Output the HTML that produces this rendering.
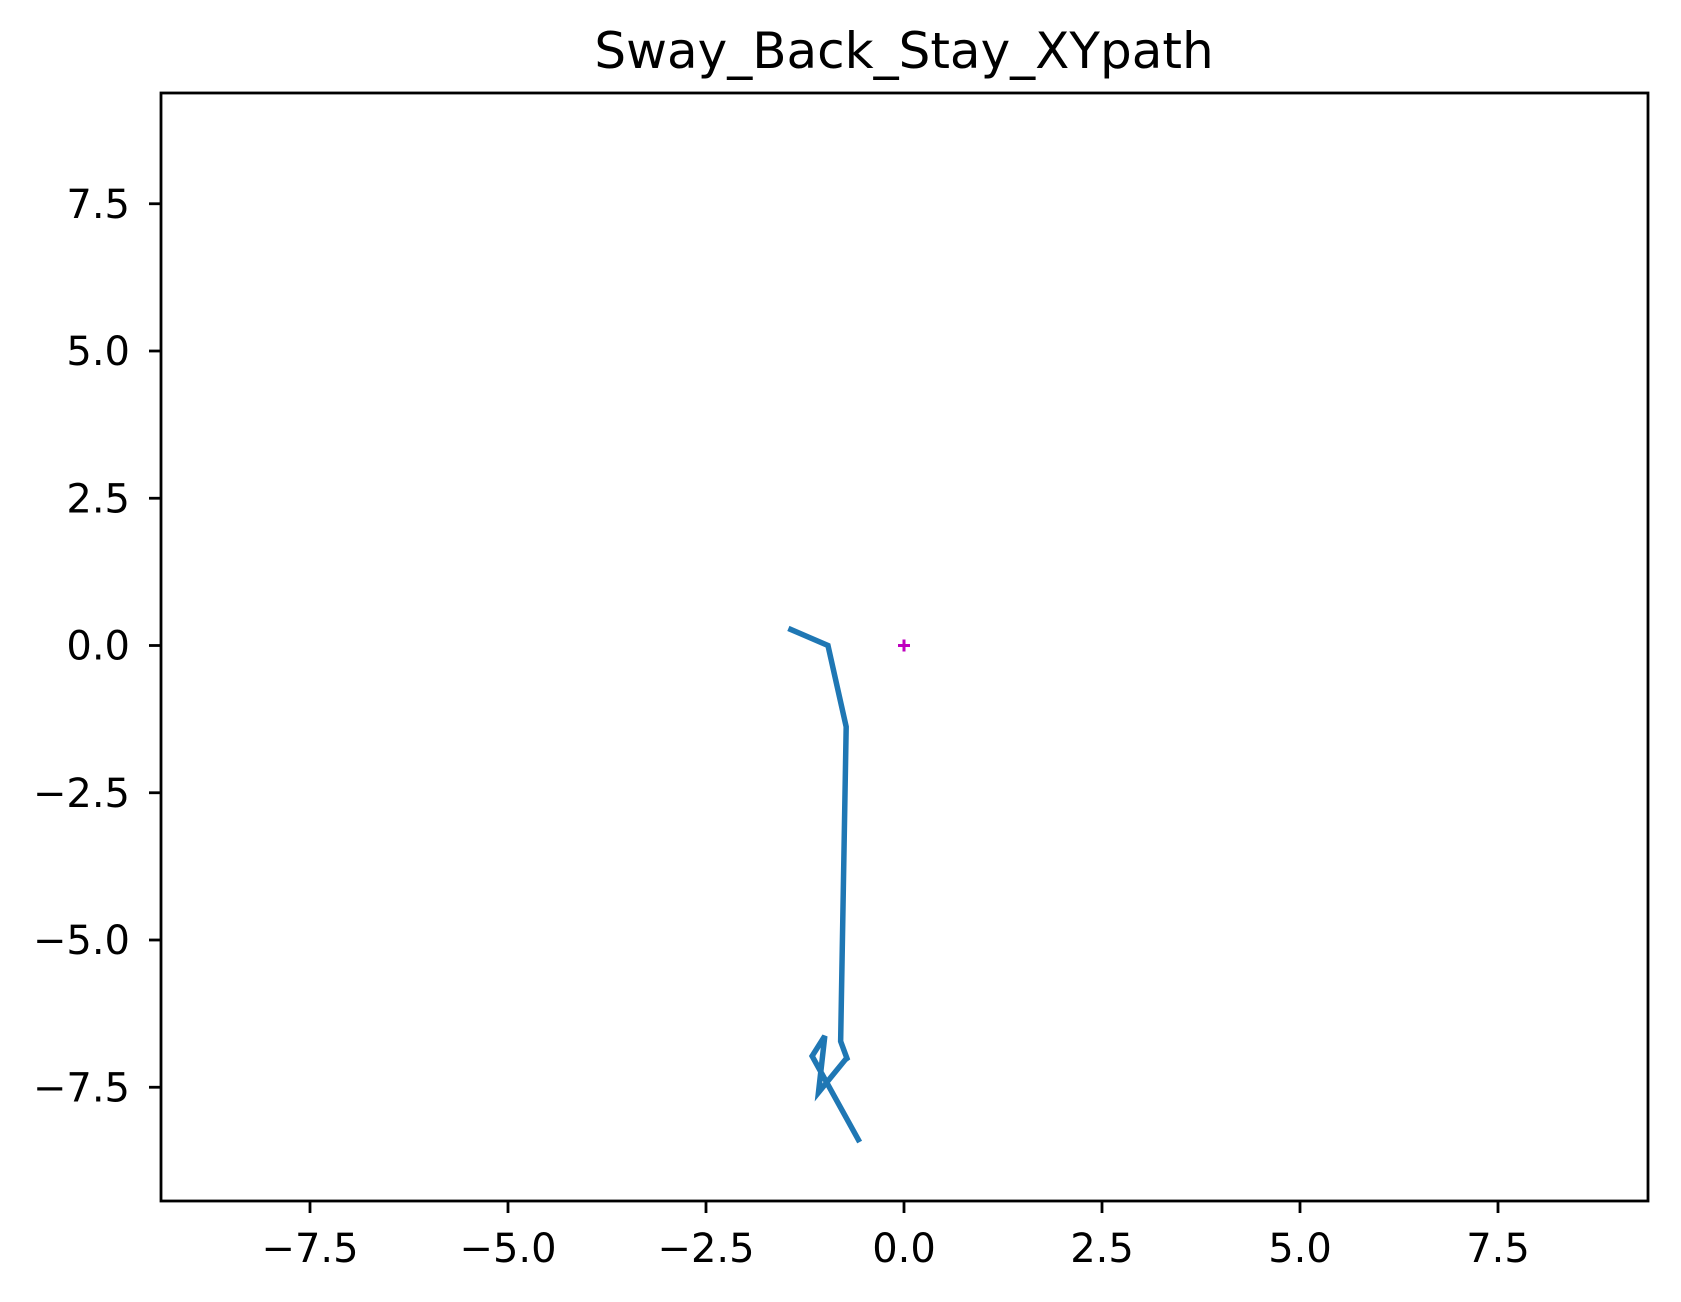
<!DOCTYPE html>
<html><head><meta charset="utf-8"><style>
html,body{margin:0;padding:0;background:#fff;}
svg{display:block;font-family:"DejaVu Sans","Liberation Sans",sans-serif;}
</style></head><body>
<svg id="chart" width="1681" height="1302" viewBox="0 0 1681 1302">
<text x="904" y="68" text-anchor="middle" font-size="50">Sway_Back_Stay_XYpath</text>
<g id="ticks"></g>
<g id="plot"></g>
<rect x="161" y="93" width="1487" height="1108" fill="none" stroke="#000" stroke-width="2.8"/>
</svg>
<script>
const xTicks=[-7.5,-5.0,-2.5,0.0,2.5,5.0,7.5];
const yTicks=[-7.5,-5.0,-2.5,0.0,2.5,5.0,7.5];
const pathX=[-1.46,-0.96,-0.73,-0.80,-0.72,-0.74,-1.08,-1.00,-1.16,-0.56];
const pathY=[0.29,0.0,-1.38,-6.72,-7.01,-7.03,-7.59,-6.63,-6.97,-8.43];
const markerX=[0];
const markerY=[0];
const X0=904,XS=79.2,Y0=645.5,YS=58.9;
const sx=v=>X0+v*XS, sy=v=>Y0-v*YS;
const ns="http://www.w3.org/2000/svg";
const tg=document.getElementById('ticks'), pg=document.getElementById('plot');
function fmt(v){return (v<0?'\u2212':'')+Math.abs(v).toFixed(1);}
xTicks.forEach(v=>{
 const l=document.createElementNS(ns,'line');
 l.setAttribute('x1',sx(v));l.setAttribute('x2',sx(v));l.setAttribute('y1',1201);l.setAttribute('y2',1213);l.setAttribute('stroke','#000');l.setAttribute('stroke-width','2.8');
 
 
 tg.appendChild(l);
 const t=document.createElementNS(ns,'text');
 t.setAttribute('x',sx(v));t.setAttribute('y',1262);t.setAttribute('text-anchor','middle');t.setAttribute('font-size','40');
 t.textContent=fmt(v);
 
 
 tg.appendChild(t);
});
yTicks.forEach(v=>{
 const l=document.createElementNS(ns,'line');
 l.setAttribute('x1',149);l.setAttribute('x2',161);l.setAttribute('y1',sy(v));l.setAttribute('y2',sy(v));l.setAttribute('stroke','#000');l.setAttribute('stroke-width','2.8');
 
 
 tg.appendChild(l);
 const t=document.createElementNS(ns,'text');
 t.setAttribute('x',130);t.setAttribute('y',sy(v)+14);t.setAttribute('text-anchor','end');t.setAttribute('font-size','40');
 t.textContent=fmt(v);
 
 
 tg.appendChild(t);
});
const pl=document.createElementNS(ns,'polyline');
pl.setAttribute('points',pathX.map((x,i)=>sx(x)+','+sy(pathY[i])).join(' '));
pl.setAttribute('fill','none');pl.setAttribute('stroke','#1f77b4');pl.setAttribute('stroke-width','5.5');pl.setAttribute('stroke-linejoin','miter');


pg.appendChild(pl);
markerX.forEach((x,i)=>{
 const p=document.createElementNS(ns,'path');
 const cx=sx(x),cy=sy(markerY[i]);
 p.setAttribute('d',`M${cx-6},${cy}H${cx+6}M${cx},${cy-6}V${cy+6}`);
 p.setAttribute('stroke','#bf00bf');p.setAttribute('stroke-width','3');
 
 
 pg.appendChild(p);
});
</script>
</body></html>
